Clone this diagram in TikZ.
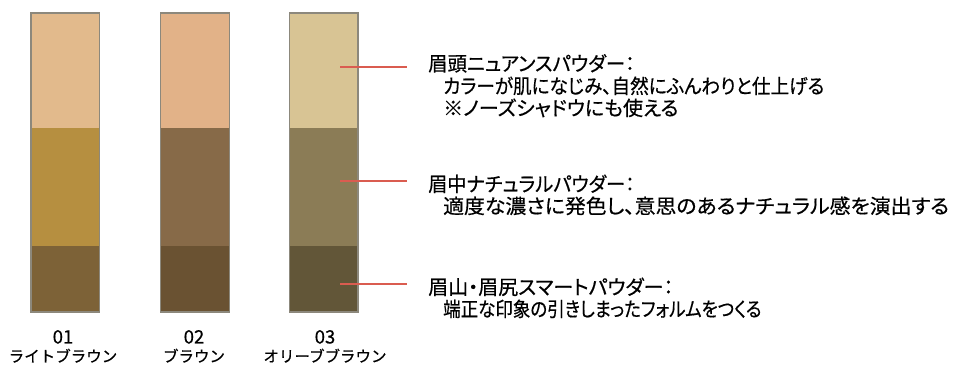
\documentclass[tikz,border=0pt]{standalone}
\usepackage{graphicx}
\usepackage{fontspec}
\setmainfont{Noto Sans CJK JP}
\newfontfamily\jp[RawFeature=+palt,FakeBold=0.5]{Noto Sans CJK JP}
\newfontfamily\jpn[FakeBold=0.5]{Noto Sans CJK JP}
\definecolor{aT}{RGB}{226,186,140}
\definecolor{aM}{RGB}{182,143,64}
\definecolor{aB}{RGB}{125,98,55}
\definecolor{bT}{RGB}{226,178,136}
\definecolor{bM}{RGB}{135,106,72}
\definecolor{bB}{RGB}{106,82,50}
\definecolor{cT}{RGB}{216,196,148}
\definecolor{cM}{RGB}{139,124,86}
\definecolor{cB}{RGB}{98,86,56}
\definecolor{edge}{RGB}{140,136,124}
\definecolor{lead}{RGB}{218,92,80}
\begin{document}
\begin{tikzpicture}[x=1pt,y=-1pt,
  seg/.style={rectangle,draw=none,inner sep=0pt,outer sep=0pt,anchor=north west,minimum width=68.5pt},
  segT/.style={seg,minimum height=115pt},
  segM/.style={seg,minimum height=118pt},
  segB/.style={seg,minimum height=66pt},
  barframe/.style={draw=edge,line width=1.3pt},
  leader/.style={draw=lead,line width=1.6pt},
  desc/.style={anchor=base west,inner sep=0pt,font=\jp\fontsize{20pt}{22pt}\selectfont},
  num/.style={anchor=base,inner sep=0pt,font=\jpn\fontsize{18.5pt}{18pt}\selectfont},
  shade/.style={anchor=base,inner sep=0pt,font=\jpn\fontsize{15.5pt}{18pt}\selectfont}]
\useasboundingbox (0,0) rectangle (954,366);
\fill[white] (0,0) rectangle (954,366);
% bar 1
\node[segT,fill=aT] (a1) at (31,13) {};
\node[segM,fill=aM] (a2) at (31,128) {};
\node[segB,fill=aB] (a3) at (31,246) {};
\draw[barframe] (a1.north west) rectangle (a3.south east);
% bar 2
\node[segT,fill=bT] (b1) at (160.75,13) {};
\node[segM,fill=bM] (b2) at (160.75,128) {};
\node[segB,fill=bB] (b3) at (160.75,246) {};
\draw[barframe] (b1.north west) rectangle (b3.south east);
% bar 3
\node[segT,fill=cT] (c1) at (289.5,13) {};
\node[segM,fill=cM] (c2) at (289.5,128) {};
\node[segB,fill=cB] (c3) at (289.5,246) {};
\draw[barframe] (c1.north west) rectangle (c3.south east);
% leaders
\coordinate (s1) at (340,67);
\coordinate (e1) at (407,67);
\coordinate (s2) at (340,181);
\coordinate (e2) at (407,181);
\coordinate (s3) at (340,284);
\coordinate (e3) at (407,284);
\draw[leader] (s1) -- (e1);
\draw[leader] (s2) -- (e2);
\draw[leader] (s3) -- (e3);
% descriptions
\node[desc] (t11) at (428,71) {\scalebox{0.97}[1]{眉頭ニュアンスパウダー：}};
\node[desc] (t12) at (443,93.5) {\scalebox{0.93}[1]{カラーが肌になじみ、自然にふんわりと仕上げる}};
\node[desc] (t13) at (443,115.5) {※ノーズシャドウにも使える};
\node[desc] (t21) at (428,191.5) {\scalebox{0.96}[1]{眉中ナチュラルパウダー：}};
\node[desc] (t22) at (443,213.5) {\scalebox{1.043}[1]{適度な濃さに発色し、意思のあるナチュラル感を演出する}};
\node[desc] (t31) at (428,294.5) {眉山・眉尻スマートパウダー：};
\node[desc] (t32) at (443,316.5) {\scalebox{0.875}[1]{端正な印象の引きしまったフォルムをつくる}};
% labels
\node[num] (n1) at (63,343.5) {01};
\node[num] (n2) at (194,343.5) {02};
\node[num] (n3) at (325,343.5) {03};
\node[shade] (l1) at (63,362) {ライトブラウン};
\node[shade] (l2) at (194,362) {ブラウン};
\node[shade] (l3) at (325,362) {オリーブブラウン};
\end{tikzpicture}
\end{document}
